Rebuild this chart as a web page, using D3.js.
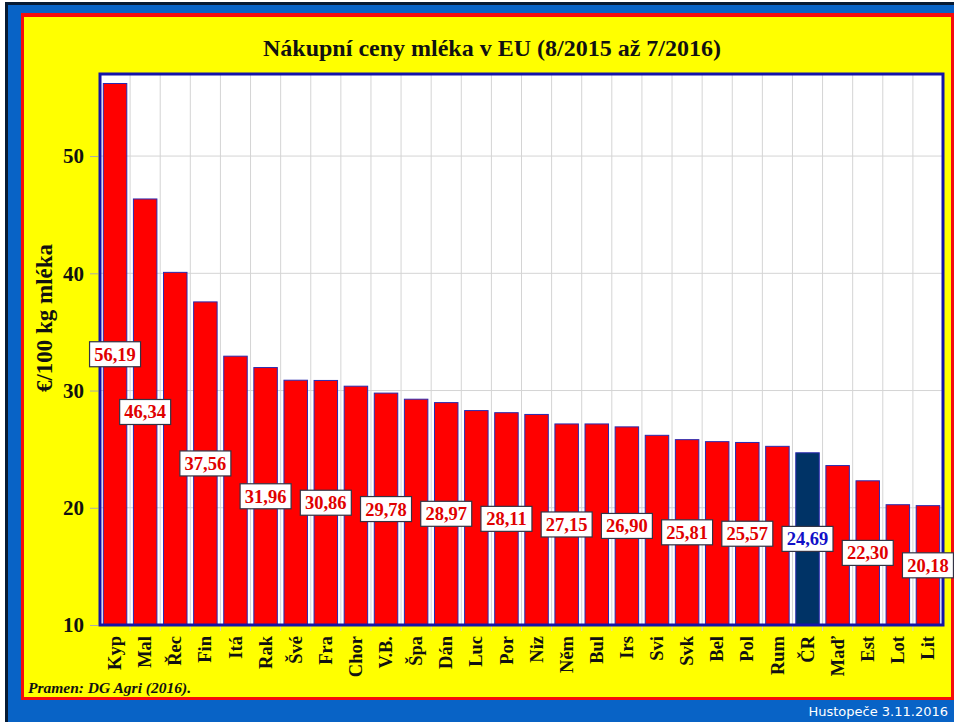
<!DOCTYPE html>
<html>
<head>
<meta charset="utf-8">
<script src="https://cdn.jsdelivr.net/npm/d3@7"></script>
<style>
  html, body { margin: 0; padding: 0; background: #fff; }
  svg { display: block; }
  text { font-family: "Liberation Serif", "Times New Roman", serif; font-weight: bold; }
</style>
</head>
<body>
<div id="chart"></div>
<script>
// data
const countries = ['Kyp', 'Mal', 'Řec', 'Fin', 'Itá', 'Rak', 'Švé', 'Fra', 'Chor', 'V.B.', 'Špa', 'Dán', 'Luc', 'Por',
  'Niz', 'Něm', 'Bul', 'Irs', 'Svi', 'Svk', 'Bel', 'Pol', 'Rum', 'ČR', 'Maď', 'Est', 'Lot', 'Lit']
const prices = [56.19, 46.34, 40.08, 37.56, 32.93, 31.96, 30.88, 30.86, 30.37, 29.78, 29.26, 28.97, 28.29, 28.11,
  27.96, 27.15, 27.15, 26.90, 26.18, 25.81, 25.64, 25.57, 25.24, 24.69, 23.60, 22.30, 20.26, 20.18]
const labelled = ['Kyp', 'Mal', 'Fin', 'Rak', 'Fra', 'V.B.', 'Dán', 'Por', 'Něm', 'Irs', 'Svk', 'Pol', 'ČR', 'Est', 'Lit']
const yTicks = [10, 20, 30, 40, 50]
const yMin = 10
const yMax = 57
const highlight = 'ČR'

const width = 954
const height = 722
const plot = {left: 100, top: 74, right: 943, bottom: 625}

const data = countries.map((c, i) => ({name: c, value: prices[i]}))

const svg = d3.select('#chart')
  .append('svg')
  .attr('width', width)
  .attr('height', height)

// slide frame: black edge, blue, red line, yellow panel
svg.append('rect').attr('width', width).attr('height', height).attr('fill', '#fff')
svg.append('rect').attr('x', 5).attr('y', 2).attr('width', width - 5).attr('height', height - 2).attr('fill', '#061a33')
svg.append('rect').attr('x', 8).attr('y', 5).attr('width', width - 8).attr('height', height - 5).attr('fill', '#0863c6')
svg.append('rect').attr('x', 21).attr('y', 13).attr('width', 933).attr('height', 687).attr('fill', '#f50d0d')
svg.append('rect').attr('x', 24).attr('y', 17).attr('width', 927).attr('height', 680).attr('fill', '#ffff00')

svg.append('text')
  .attr('x', 948)
  .attr('y', 716)
  .attr('text-anchor', 'end')
  .style('font-family', '"DejaVu Sans", Verdana, sans-serif')
  .style('font-weight', 'normal')
  .style('font-size', '13px')
  .attr('fill', '#fff')
  .text('Hustopeče 3.11.2016')

// title
svg.append('text')
  .attr('x', 492)
  .attr('y', 56)
  .attr('text-anchor', 'middle')
  .style('font-size', '24px')
  .attr('fill', '#111')
  .text('Nákupní ceny mléka v EU (8/2015 až 7/2016)')

const x = d3.scaleBand()
  .domain(countries)
  .range([plot.left, plot.right])
  .paddingInner(0.22)
  .paddingOuter(0.11)

const y = d3.scaleLinear()
  .domain([yMin, yMax])
  .range([plot.bottom, plot.top])

const g = svg.append('g')

g.append('rect')
  .attr('x', plot.left)
  .attr('y', plot.top)
  .attr('width', plot.right - plot.left)
  .attr('height', plot.bottom - plot.top)
  .attr('fill', '#fff')

// grid
const gap = (x.step() - x.bandwidth()) / 2
g.selectAll('.vgrid')
  .data(countries.slice(1))
  .enter()
  .append('line')
  .attr('x1', d => x(d) - gap)
  .attr('x2', d => x(d) - gap)
  .attr('y1', plot.top)
  .attr('y2', plot.bottom + 6)
  .attr('stroke', '#d4d4d4')
  .attr('stroke-width', 1)

g.selectAll('.hgrid')
  .data(yTicks.slice(1))
  .enter()
  .append('line')
  .attr('x1', plot.left)
  .attr('x2', plot.right)
  .attr('y1', d => y(d))
  .attr('y2', d => y(d))
  .attr('stroke', '#d4d4d4')
  .attr('stroke-width', 1)

// bars
g.selectAll('.bar')
  .data(data)
  .enter()
  .append('rect')
  .attr('x', d => x(d.name))
  .attr('y', d => y(d.value))
  .attr('width', x.bandwidth())
  .attr('height', d => y(yMin) - y(d.value))
  .attr('fill', d => d.name === highlight ? '#003366' : '#ff0000')
  .attr('stroke', '#2a2ab0')
  .attr('stroke-width', 1)

// plot border
g.append('rect')
  .attr('x', plot.left)
  .attr('y', plot.top)
  .attr('width', plot.right - plot.left)
  .attr('height', plot.bottom - plot.top)
  .attr('fill', 'none')
  .attr('stroke', '#1414a8')
  .attr('stroke-width', 3)

// axes
const yAxis = d3.axisLeft(y).tickValues(yTicks).tickSize(8).tickPadding(6)
const ga = svg.append('g')
  .attr('transform', `translate(${plot.left - 2}, 0)`)
  .call(yAxis)
ga.select('.domain').remove()
ga.selectAll('line').attr('stroke', '#aaa')
ga.selectAll('text')
  .style('font-size', '21px')
  .style('font-family', '"Liberation Serif", serif')
  .attr('fill', '#111')

const xAxis = d3.axisBottom(x).tickSize(0).tickPadding(0)
const gx = svg.append('g')
  .attr('transform', `translate(0, ${plot.bottom})`)
  .call(xAxis)
gx.select('.domain').remove()
gx.selectAll('text')
  .attr('transform', 'rotate(-90)')
  .attr('x', -11)
  .attr('y', 0)
  .attr('dy', '0.33em')
  .attr('text-anchor', 'end')
  .style('font-size', '18.5px')
  .style('font-family', '"Liberation Serif", serif')
  .attr('fill', '#111')

// y title
svg.append('text')
  .attr('transform', 'translate(52, 318) rotate(-90)')
  .attr('text-anchor', 'middle')
  .style('font-size', '23px')
  .attr('fill', '#111')
  .text('€/100 kg mléka')

// value boxes at half bar height
const lab = g.selectAll('.lab')
  .data(data.filter(d => labelled.includes(d.name)))
  .enter()
  .append('g')
  .attr('transform', d => `translate(${x(d.name) + x.bandwidth() / 2}, ${(y(d.value) + y(yMin)) / 2})`)

lab.append('rect')
  .attr('x', -25.5)
  .attr('y', -12.5)
  .attr('width', 51)
  .attr('height', 25)
  .attr('fill', '#fff')
  .attr('stroke', '#334')
  .attr('stroke-width', 1.2)

lab.append('text')
  .attr('text-anchor', 'middle')
  .attr('dy', '0.35em')
  .style('font-size', '18.5px')
  .attr('fill', d => d.name === highlight ? '#1010c8' : '#e00000')
  .text(d => d.value.toFixed(2).replace('.', ','))

// source note
svg.append('text')
  .attr('x', 28)
  .attr('y', 693)
  .style('font-size', '15.5px')
  .style('font-style', 'italic')
  .attr('fill', '#111')
  .text('Pramen: DG Agri (2016).')
</script>
</body>
</html>
